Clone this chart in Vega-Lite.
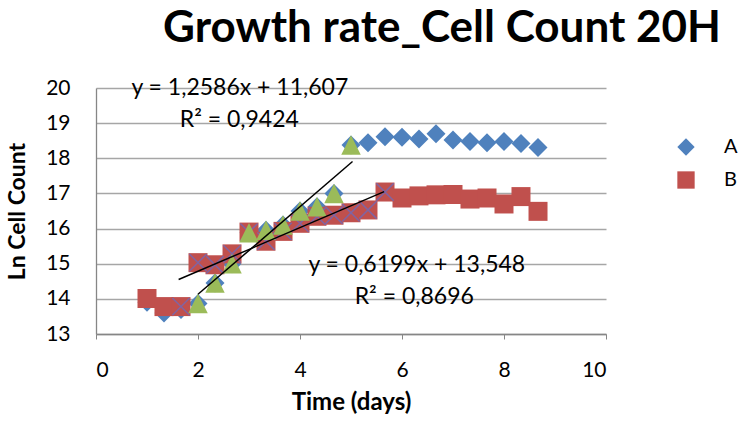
{
  "$schema": "https://vega.github.io/schema/vega-lite/v6.json",
  "width": 510,
  "height": 246,
  "autosize": {"type": "none"},
  "padding": {"left": 96, "top": 88, "right": 135, "bottom": 89},
  "background": "white",
  "title": {
    "text": "Growth rate_Cell Count 20H",
    "font": "Lato",
    "fontSize": 44,
    "fontWeight": "bold",
    "color": "black",
    "anchor": "middle",
    "frame": "group",
    "dx": 91,
    "offset": 26
  },
  "config": {
    "view": {"stroke": null},
    "font": "Lato",
    "axis": {
      "labelFont": "Lato",
      "titleFont": "Lato",
      "labelColor": "black",
      "titleColor": "black",
      "domainColor": "#868686",
      "tickColor": "#868686",
      "gridColor": "#a6a6a6",
      "gridWidth": 1.3,
      "domainWidth": 1.3,
      "labelOverlap": false
    }
  },
  "datasets": {
    "cells": [
      {"series": "A", "t": 1, "v": 13.9},
      {"series": "A", "t": 1.333, "v": 13.6},
      {"series": "A", "t": 1.667, "v": 13.7},
      {"series": "A", "t": 2, "v": 13.87},
      {"series": "A", "t": 2.333, "v": 14.45},
      {"series": "A", "t": 2.667, "v": 15.0},
      {"series": "A", "t": 3, "v": 15.88},
      {"series": "A", "t": 3.333, "v": 15.95},
      {"series": "A", "t": 3.667, "v": 16.1},
      {"series": "A", "t": 4, "v": 16.5},
      {"series": "A", "t": 4.333, "v": 16.62},
      {"series": "A", "t": 4.667, "v": 17.0},
      {"series": "A", "t": 5, "v": 18.38},
      {"series": "A", "t": 5.333, "v": 18.44},
      {"series": "A", "t": 5.667, "v": 18.61},
      {"series": "A", "t": 6, "v": 18.6},
      {"series": "A", "t": 6.333, "v": 18.55},
      {"series": "A", "t": 6.667, "v": 18.7},
      {"series": "A", "t": 7, "v": 18.52},
      {"series": "A", "t": 7.333, "v": 18.48},
      {"series": "A", "t": 7.667, "v": 18.44},
      {"series": "A", "t": 8, "v": 18.48},
      {"series": "A", "t": 8.333, "v": 18.42},
      {"series": "A", "t": 8.667, "v": 18.31},
      {"series": "B", "t": 1, "v": 14.01},
      {"series": "B", "t": 1.333, "v": 13.78},
      {"series": "B", "t": 1.667, "v": 13.78},
      {"series": "B", "t": 2, "v": 15.03},
      {"series": "B", "t": 2.333, "v": 14.97},
      {"series": "B", "t": 2.667, "v": 15.28},
      {"series": "B", "t": 3, "v": 15.9},
      {"series": "B", "t": 3.333, "v": 15.64},
      {"series": "B", "t": 3.667, "v": 15.92},
      {"series": "B", "t": 4, "v": 16.15},
      {"series": "B", "t": 4.333, "v": 16.35},
      {"series": "B", "t": 4.667, "v": 16.38},
      {"series": "B", "t": 5, "v": 16.45},
      {"series": "B", "t": 5.333, "v": 16.53},
      {"series": "B", "t": 5.667, "v": 17.04},
      {"series": "B", "t": 6, "v": 16.87},
      {"series": "B", "t": 6.333, "v": 16.93},
      {"series": "B", "t": 6.667, "v": 16.96},
      {"series": "B", "t": 7, "v": 16.97},
      {"series": "B", "t": 7.333, "v": 16.84},
      {"series": "B", "t": 7.667, "v": 16.87},
      {"series": "B", "t": 8, "v": 16.7},
      {"series": "B", "t": 8.333, "v": 16.91},
      {"series": "B", "t": 8.667, "v": 16.49}
    ],
    "trends": [
      {"fit": "A", "t": 2.0, "v": 14.13},
      {"fit": "A", "t": 5.03, "v": 17.91},
      {"fit": "B", "t": 1.62, "v": 14.55},
      {"fit": "B", "t": 5.65, "v": 17.05}
    ],
    "labels": [
      {"t": 2.82, "v": 20.0, "text": "y = 1,2586x + 11,607"},
      {"t": 2.81, "v": 19.09, "text": "R² = 0,9424"},
      {"t": 6.29, "v": 14.96, "text": "y = 0,6199x + 13,548"},
      {"t": 6.24, "v": 14.06, "text": "R² = 0,8696"}
    ]
  },
  "encoding": {
    "x": {
      "field": "t", "type": "quantitative",
      "scale": {"domain": [0, 10], "nice": false, "zero": false},
      "axis": {
        "values": [0, 2, 4, 6, 8, 10],
        "grid": false,
        "title": "Time (days)",
        "titleFontSize": 24,
        "titleFontWeight": "bold",
        "labelFontSize": 21,
        "tickSize": 5,
        "labelPadding": 20,
        "titlePadding": 10
      }
    },
    "y": {
      "field": "v", "type": "quantitative",
      "scale": {"domain": [13, 20], "nice": false, "zero": false},
      "axis": {
        "values": [13, 14, 15, 16, 17, 18, 19, 20],
        "grid": true,
        "title": "Ln Cell Count",
        "titleFontSize": 23,
        "titleFontWeight": "bold",
        "labelFontSize": 21,
        "tickSize": 0,
        "labelPadding": 26,
        "titlePadding": 16
      }
    }
  },
  "layer": [
    {
      "data": {"name": "cells"},
      "mark": {"type": "point", "filled": true, "opacity": 1, "size": 361},
      "encoding": {
        "color": {
          "field": "series", "type": "nominal",
          "scale": {"domain": ["A", "B"], "range": ["#4F81BD", "#C0504D"]},
          "legend": {
            "title": null,
            "orient": "none",
            "legendX": 580,
            "legendY": 49,
            "padding": 0,
            "labelFontSize": 20,
            "labelFont": "Lato",
            "labelColor": "black",
            "labelOffset": 28,
            "symbolSize": 300,
            "rowPadding": 9,
            "symbolOpacity": 1
          }
        },
        "shape": {
          "field": "series", "type": "nominal",
          "scale": {"domain": ["A", "B"], "range": ["diamond", "square"]}
        }
      }
    },
    {
      "data": {"name": "cells"},
      "transform": [{"filter": "datum.series === 'B' && datum.t > 1.5 && datum.t < 5.8"}],
      "mark": {"type": "point", "filled": false, "shape": "M-1,-1L1,1M-1,1L1,-1", "size": 300, "color": "#8064A2", "strokeWidth": 1.5, "opacity": 1}
    },
    {
      "data": {"name": "cells"},
      "transform": [{"filter": "datum.series === 'A' && datum.t > 1.9 && datum.t < 5.1"}],
      "mark": {"type": "point", "filled": true, "shape": "M0,-1L1,1L-1,1Z", "size": 380, "color": "#9BBB59", "opacity": 1}
    },
    {
      "data": {"name": "trends"},
      "mark": {"type": "line", "color": "black", "strokeWidth": 1.5},
      "encoding": {
        "detail": {"field": "fit", "type": "nominal"}
      }
    },
    {
      "data": {"name": "labels"},
      "mark": {"type": "text", "font": "Lato", "fontSize": 23, "color": "black", "align": "center", "baseline": "middle"},
      "encoding": {
        "text": {"field": "text", "type": "nominal"}
      }
    }
  ]
}
